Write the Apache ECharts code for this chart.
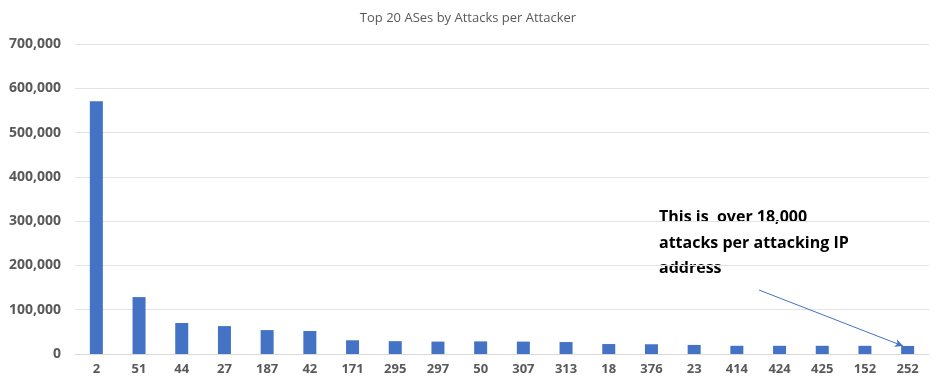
<!DOCTYPE html>
<html>
<head>
<meta charset="utf-8">
<script src="https://cdn.jsdelivr.net/npm/echarts@6/dist/echarts.min.js"></script>
<style>
html,body{margin:0;padding:0;background:#fff;}
#c{width:936px;height:388px;}
</style>
</head>
<body>
<div id="c"></div>
<script>
var categories = ['2','51','44','27','187','42','171','295','297','50','307','313','18','376','23','414','424','425','152','252'];
var attacksPerAttacker = [571000,128500,70000,63000,54000,52000,31000,29000,28000,28500,28000,27000,22500,22000,20500,18500,18500,18500,18500,18200];
var titleText = 'Top 20 ASes by Attacks per Attacker';
var noteLines = ['This is  over 18,000', 'attacks per attacking IP', 'address'];

var chart = echarts.init(document.getElementById('c'), null, {renderer:'canvas'});
chart.setOption({
  animation:false,
  backgroundColor:'#ffffff',
  title:{
    text:titleText, left:'center', top:7,
    textStyle:{fontFamily:'Open Sans', fontSize:13, fontWeight:'normal', color:'#595959'}
  },
  grid:{left:75, right:7, top:44, bottom:34},
  xAxis:{
    type:'category', data:categories,
    axisLine:{lineStyle:{color:'#d9d9d9'}},
    axisTick:{show:false},
    axisLabel:{fontFamily:'Open Sans', fontSize:13, fontWeight:'bold', color:'#595959', margin:9}
  },
  yAxis:{
    type:'value', min:0, max:700000, interval:100000,
    axisLine:{show:false}, axisTick:{show:false},
    splitLine:{lineStyle:{color:'#e3e3e3'}},
    axisLabel:{fontFamily:'Open Sans', fontSize:14, fontWeight:'bold', color:'#595959', margin:14,
      formatter:function(v){return v.toLocaleString('en-US');}}
  },
  series:[{
    type:'bar', data:attacksPerAttacker, barWidth:13,
    itemStyle:{color:'#4472C4'},
    markLine:{
      silent:true,
      symbol:['none','arrow'], symbolSize:[6,8],
      label:{show:false},
      lineStyle:{color:'#4472C4', width:1, type:'solid'},
      data:[[{x:759, y:290},{x:903, y:346}]]
    }
  }],
  graphic:[{
    type:'text', left:659, top:205,
    style:{text:noteLines.join('\n'), fontFamily:'Open Sans', fontSize:16, fontWeight:'bold', fill:'#000000', lineHeight:25.5}
  }]
});
</script>
</body>
</html>
